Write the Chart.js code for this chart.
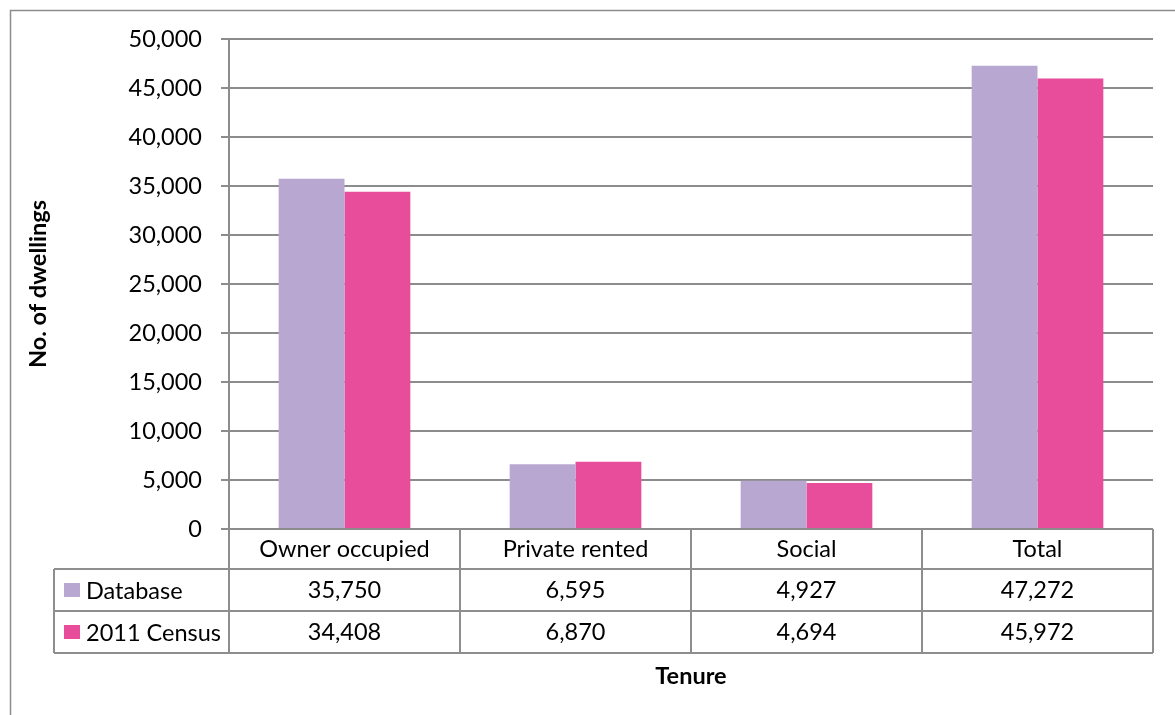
<!DOCTYPE html>
<html>
<head>
<meta charset="utf-8">
<script src="https://cdn.jsdelivr.net/npm/chart.js@4"></script>
<style>
  body { margin: 0; background: #fff; }
  .wrap { width: 1175px; height: 715px; }
</style>
</head>
<body>
<div class="wrap"><canvas id="grafico" width="1175" height="715"></canvas></div>
<script>
const categorias = ['Owner occupied', 'Private rented', 'Social', 'Total'];
const serieNomes = ['Database', '2011 Census'];
const database = [35750, 6595, 4927, 47272];
const censo2011 = [34408, 6870, 4694, 45972];
const cores = ['#b8a8d1', '#e84d9c'];

const fonte = 'Lato, "Liberation Sans", sans-serif';
const fmt = v => v.toLocaleString('en-US');

// desenha a tabela de dados embaixo do grafico
const tabela = {
  id: 'tabela',
  afterDraw(chart) {
    const ctx = chart.ctx;
    const x = chart.scales.x, area = chart.chartArea;
    const esq = area.left, dir = area.right, base = area.bottom;
    const larg = (dir - esq) / categorias.length;
    const linhas = [base, base + 40, base + 82, base + 124];
    const legEsq = 54;
    ctx.save();
    // moldura do quadro
    ctx.strokeStyle = '#8c8c8c';
    ctx.lineWidth = 1.5;
    ctx.beginPath();
    ctx.moveTo(10.5, 1000); ctx.lineTo(10.5, 10.5); ctx.lineTo(1200, 10.5);
    ctx.stroke();
    ctx.lineWidth = 2;
    ctx.strokeStyle = '#8e8e8e';
    ctx.beginPath();
    ctx.moveTo(esq, base); ctx.lineTo(esq, linhas[3]);
    ctx.moveTo(dir, base); ctx.lineTo(dir, linhas[3]);
    for (let i = 1; i < categorias.length; i++) {
      ctx.moveTo(esq + i * larg, base); ctx.lineTo(esq + i * larg, linhas[3]);
    }
    ctx.moveTo(legEsq, linhas[1]); ctx.lineTo(legEsq, linhas[3]);
    for (let j = 1; j < 4; j++) {
      ctx.moveTo(legEsq, linhas[j]); ctx.lineTo(dir, linhas[j]);
    }
    ctx.stroke();
    ctx.fillStyle = '#000';
    ctx.font = '23.5px ' + fonte;
    ctx.textAlign = 'center';
    ctx.textBaseline = 'middle';
    categorias.forEach((c, i) => {
      const cx = x.getPixelForValue(i);
      ctx.fillText(c, cx, (linhas[0] + linhas[1]) / 2);
      ctx.fillText(fmt(database[i]), cx, (linhas[1] + linhas[2]) / 2);
      ctx.fillText(fmt(censo2011[i]), cx, (linhas[2] + linhas[3]) / 2);
    });
    ctx.textAlign = 'left';
    serieNomes.forEach((n, j) => {
      const cy = (linhas[j + 1] + linhas[j + 2]) / 2;
      ctx.fillStyle = cores[j];
      ctx.fillRect(64, cy - 7, 16, 14);
      ctx.fillStyle = '#000';
      ctx.fillText(n, 86, cy + 1);
    });
    ctx.font = 'bold 23.5px ' + fonte;
    ctx.textAlign = 'center';
    ctx.fillText('Tenure', (esq + dir) / 2, 676);
    ctx.restore();
  }
};

const graph = new Chart(document.getElementById('grafico').getContext('2d'), {
  type: 'bar',
  data: {
    labels: categorias,
    datasets: [{
      label: serieNomes[0],
      data: database,
      backgroundColor: cores[0],
      barPercentage: 1,
      categoryPercentage: 0.57
    }, {
      label: serieNomes[1],
      data: censo2011,
      backgroundColor: cores[1],
      barPercentage: 1,
      categoryPercentage: 0.57
    }]
  },
  options: {
    responsive: false,
    animation: false,
    layout: { padding: { left: 11, top: 39, right: 22, bottom: 186 } },
    plugins: { legend: { display: false }, tooltip: { enabled: false } },
    scales: {
      x: { display: false },
      y: {
        min: 0, max: 50000,
        z: 1,
        afterFit: s => { s.width = 218; },
        ticks: {
          stepSize: 5000,
          padding: 19,
          color: '#000',
          font: { family: fonte, size: 23.5 },
          callback: v => fmt(v)
        },
        grid: { color: 'rgba(70,70,70,0.62)', lineWidth: 2, tickLength: 8 },
        border: { display: true, color: 'rgba(70,70,70,0.62)', width: 2 },
        title: {
          display: true,
          text: 'No. of dwellings',
          color: '#000',
          font: { family: fonte, size: 23.5, weight: 'bold' },
          padding: { top: 13, bottom: 0 }
        }
      }
    }
  },
  plugins: [tabela]
});
</script>
</body>
</html>
